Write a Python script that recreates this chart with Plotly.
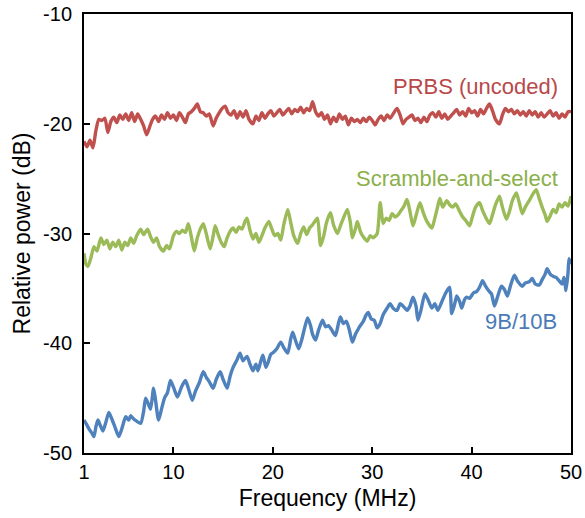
import plotly.graph_objects as go

# PRBS (uncoded)
prbs_f = [1.0,1.3,1.6,1.9,2.2,2.5,2.8,3.1,3.4,3.7,4.0,4.3,4.6,4.9,5.2,5.5,5.8,6.1,6.4,6.7,7.0,7.3,7.6,7.9,8.2,8.5,8.8,9.1,9.4,9.7,
          10.0,10.3,10.6,10.9,11.2,11.5,11.8,12.1,12.4,12.7,13.0,13.3,13.6,14.0,14.3,14.6,14.9,15.2,15.5,15.8,16.1,16.4,16.7,17.0,17.3,17.6,18.0,18.3,18.6,18.9,
          19.2,19.5,19.8,20.1,20.4,20.7,21.0,21.3,21.6,21.9,22.2,22.5,22.8,23.1,23.4,23.7,24.0,24.3,24.6,24.9,25.2,25.5,25.8,26.1,26.4,26.7,27.0,27.3,27.6,27.9,
          28.2,28.5,28.8,29.1,29.4,29.7,30.0,30.3,30.6,30.9,31.2,31.5,31.8,32.1,32.5,32.8,33.1,33.4,33.7,34.0,34.3,34.6,34.9,35.2,35.5,35.8,36.1,36.4,36.7,37.0,
          37.3,37.6,37.9,38.2,38.5,38.8,39.1,39.4,39.7,40.0,40.3,40.6,40.9,41.2,41.5,41.8,42.1,42.4,42.8,43.1,43.4,43.7,44.0,44.3,44.6,44.9,45.2,45.5,45.8,46.1,
          46.4,46.7,47.0,47.3,47.6,47.9,48.2,48.5,48.8,49.1,49.4,49.7,50.0]
prbs_db = [-21.6,-22.1,-21.5,-22.2,-20.6,-19.6,-19.7,-19.5,-20.8,-19.8,-19.4,-19.9,-19.2,-19.6,-19.1,-19.7,-19.0,-19.8,-19.1,-19.6,-20.2,-21.0,-20.3,-19.6,-19.3,-19.8,-19.2,-19.6,-19.0,-19.5,
           -19.2,-19.7,-19.0,-19.4,-19.9,-19.1,-18.9,-18.6,-18.2,-18.9,-19.0,-19.3,-19.1,-20.2,-19.5,-19.0,-18.6,-18.4,-19.0,-19.2,-18.8,-19.5,-18.9,-19.4,-18.8,-19.6,-20.0,-19.3,-19.7,-19.0,
           -19.5,-19.1,-18.8,-19.3,-19.0,-18.7,-19.2,-18.9,-18.6,-19.1,-18.7,-18.9,-18.5,-19.0,-18.6,-18.8,-18.0,-18.9,-19.3,-19.0,-19.6,-19.2,-20.0,-19.4,-19.8,-19.1,-19.6,-19.3,-20.1,-19.5,
           -19.8,-19.6,-19.9,-19.5,-19.8,-19.4,-19.7,-20.1,-19.6,-19.3,-19.7,-19.2,-19.5,-19.1,-18.6,-19.2,-20.0,-19.6,-19.4,-19.2,-19.7,-19.5,-19.9,-19.4,-19.8,-19.2,-19.0,-19.4,-18.9,-19.5,
           -19.1,-19.6,-19.3,-19.0,-18.7,-19.2,-18.9,-19.3,-18.6,-19.0,-18.8,-19.3,-18.7,-19.1,-18.6,-18.2,-18.8,-19.6,-20.0,-19.2,-18.6,-18.9,-18.7,-19.1,-18.8,-19.2,-18.9,-19.3,-18.8,-19.2,
           -18.9,-19.4,-19.0,-19.4,-19.1,-18.8,-19.3,-19.0,-19.5,-19.1,-19.4,-18.9,-18.9]

# Scramble-and-select
scr_f = [1.0,1.2,1.4,1.7,2.0,2.3,2.7,3.0,3.3,3.6,3.9,4.2,4.5,4.8,5.1,5.4,5.7,6.0,6.3,6.7,7.0,7.4,7.7,8.0,8.3,8.6,9.0,9.3,9.6,
         10.0,10.3,10.6,10.9,11.2,11.5,11.8,12.1,12.4,12.7,13.0,13.3,13.7,14.0,14.2,14.5,14.8,15.1,15.4,15.7,16.0,16.3,16.6,16.9,17.2,17.4,17.7,18.0,18.3,18.6,18.9,
         19.2,19.6,19.9,20.2,20.5,20.8,21.1,21.5,21.8,22.1,22.5,22.8,23.1,23.4,23.7,24.0,24.3,24.5,24.8,25.1,25.4,25.8,26.1,26.5,26.8,27.1,27.5,27.8,28.0,28.3,
         28.5,28.8,29.1,29.5,29.8,30.1,30.5,30.8,31.1,31.4,31.7,32.0,32.3,32.6,32.9,33.2,33.5,33.8,34.1,34.4,34.8,35.1,35.5,36.0,36.3,36.6,36.8,37.1,37.5,37.8,
         38.1,38.4,38.8,39.1,39.4,39.8,40.1,40.4,40.8,41.1,41.4,41.8,42.1,42.4,42.8,43.1,43.5,43.8,44.1,44.5,44.8,45.1,45.4,45.8,46.1,46.5,46.8,47.1,47.4,47.6,
         47.9,48.2,48.5,48.8,49.1,49.4,49.7,50.0]
scr_db = [-31.8,-32.8,-33.0,-32.2,-31.2,-31.6,-30.4,-31.0,-30.6,-31.4,-30.8,-31.2,-30.6,-31.5,-30.8,-31.1,-30.4,-30.9,-30.2,-29.6,-30.1,-29.6,-30.3,-30.8,-30.4,-31.2,-31.6,-31.1,-31.4,
          -30.2,-29.8,-30.0,-29.7,-29.9,-29.1,-30.3,-31.6,-30.4,-29.6,-29.1,-30.0,-31.4,-30.2,-29.3,-30.1,-30.8,-31.2,-30.4,-29.8,-29.5,-29.9,-29.4,-29.6,-28.9,-28.6,-29.7,-30.5,-30.0,-30.8,-30.2,
          -29.5,-28.9,-29.6,-30.2,-30.0,-30.6,-29.2,-27.8,-29.0,-30.2,-30.9,-30.0,-29.4,-30.1,-29.5,-29.2,-28.8,-28.6,-31.1,-30.3,-29.0,-28.1,-29.2,-30.0,-29.3,-28.6,-27.8,-29.0,-30.4,-29.6,
          -28.9,-29.8,-30.3,-30.7,-30.2,-30.4,-30.0,-27.2,-29.1,-28.6,-28.8,-28.2,-28.5,-28.3,-27.9,-27.5,-26.9,-28.0,-29.3,-28.4,-27.2,-28.0,-28.9,-29.5,-28.6,-27.5,-26.8,-27.6,-27.0,-27.4,
          -27.6,-27.3,-28.0,-28.5,-28.8,-29.3,-28.4,-27.6,-27.2,-27.9,-28.5,-29.1,-28.3,-27.4,-26.6,-27.6,-28.7,-28.0,-27.0,-26.3,-27.2,-28.2,-27.6,-27.0,-26.5,-26.0,-26.8,-27.6,-28.3,-28.9,
          -28.4,-27.8,-28.1,-27.3,-27.6,-27.2,-27.5,-26.6]

# 9B/10B
b9_f = [1.0,1.2,1.5,1.8,2.0,2.2,2.4,2.6,2.9,3.2,3.5,3.8,4.1,4.5,4.8,5.2,5.5,5.7,6.0,6.3,6.7,7.0,7.2,7.5,7.7,8.0,8.2,8.5,8.8,9.1,9.4,9.7,
        10.0,10.4,10.8,11.2,11.5,11.9,12.2,12.6,13.0,13.3,13.6,14.0,14.3,14.7,15.0,15.4,15.7,16.0,16.4,16.7,17.0,17.4,17.7,18.0,18.3,18.5,18.8,19.0,19.3,19.5,19.8,
        20.1,20.4,20.8,21.1,21.5,21.8,22.0,22.3,22.6,22.9,23.2,23.5,23.8,24.0,24.3,24.6,25.0,25.3,25.6,26.0,26.3,26.6,26.8,27.1,27.4,27.7,28.0,28.3,28.6,28.8,
        29.1,29.4,29.6,29.9,30.2,30.5,30.8,31.1,31.5,31.8,32.1,32.5,32.8,33.1,33.5,33.8,34.1,34.4,34.6,34.9,35.3,35.6,36.0,36.3,36.6,37.1,37.4,37.8,38.0,38.3,
        38.5,38.8,39.0,39.3,39.5,39.8,40.2,40.5,40.8,41.1,41.4,41.7,42.0,42.3,42.6,43.0,43.3,43.6,43.9,44.3,44.6,45.1,45.4,45.8,46.1,46.4,46.8,47.1,47.4,47.6,
        47.9,48.2,48.5,48.8,49.1,49.3,49.5,49.7,49.8,50.0]
b9_db = [-47.0,-47.3,-47.8,-48.2,-48.5,-47.6,-47.0,-47.4,-48.0,-47.2,-46.3,-46.9,-47.6,-48.5,-47.8,-46.7,-47.0,-46.6,-46.9,-47.1,-47.3,-46.2,-45.0,-45.6,-46.0,-44.1,-45.2,-47.0,-46.0,-45.0,-44.5,-43.4,
         -44.0,-44.9,-44.0,-43.4,-44.1,-45.2,-44.4,-43.6,-42.6,-43.1,-43.5,-44.1,-43.3,-42.6,-43.3,-44.1,-43.0,-42.2,-41.5,-40.9,-41.6,-41.2,-41.9,-42.5,-41.9,-42.5,-41.6,-41.1,-42.2,-41.8,-41.0,
         -40.8,-40.5,-39.9,-40.4,-40.9,-39.6,-39.0,-39.8,-40.5,-39.7,-38.6,-37.7,-38.4,-39.2,-39.7,-38.8,-37.9,-38.5,-38.4,-38.9,-39.3,-38.2,-37.6,-38.2,-38.0,-38.8,-39.9,-39.2,-38.7,-38.4,
         -38.0,-37.4,-37.2,-37.8,-37.9,-38.6,-38.2,-37.4,-36.8,-36.4,-36.8,-37.0,-36.4,-36.6,-37.0,-36.6,-35.8,-36.6,-37.9,-37.0,-35.5,-36.0,-36.8,-36.4,-37.0,-36.0,-35.4,-34.9,-37.3,-36.4,
         -35.7,-36.2,-36.8,-36.0,-35.8,-35.9,-35.4,-35.3,-34.9,-34.3,-34.8,-35.2,-35.5,-36.6,-35.8,-34.8,-35.1,-35.7,-34.8,-33.8,-34.3,-34.8,-34.5,-34.4,-34.1,-34.6,-34.7,-34.2,-33.7,-33.2,
         -33.7,-33.9,-34.0,-34.3,-34.6,-34.0,-35.2,-33.6,-32.3,-32.8]

series_names = ["PRBS (uncoded)", "Scramble-and-select", "9B/10B"]
line_colors = ["#C0504D", "#9BBB59", "#4F81BD"]
text_colors = ["#B9484A", "#8BB04A", "#4A7BB7"]
label_pos = [(48.85, -16.6), (48.85, -25.0), (48.75, -38.05)]

x_ticks = [1, 10, 20, 30, 40, 50]
y_ticks = [-50, -40, -30, -20, -10]

FONT = "Liberation Sans, Arial, sans-serif"

fig = go.Figure()
for f, d, c in [(prbs_f, prbs_db, line_colors[0]), (scr_f, scr_db, line_colors[1]), (b9_f, b9_db, line_colors[2])]:
    fig.add_trace(go.Scatter(x=f, y=d, mode="lines", line=dict(color=c, width=3.4, shape="spline", smoothing=0.6),
                             showlegend=False, hoverinfo="skip"))

for name, (lx, ly), tc in zip(series_names, label_pos, text_colors):
    fig.add_annotation(x=lx, y=ly, text=name, showarrow=False, xanchor="right", yanchor="middle",
                       font=dict(family=FONT, size=22, color=tc))

fig.update_layout(
    width=585, height=518,
    margin=dict(l=84, r=14, t=14, b=65),
    paper_bgcolor="white", plot_bgcolor="white",
    font=dict(family=FONT, color="black"),
)
fig.update_xaxes(range=[1, 50], tickvals=x_ticks, ticktext=[str(v) for v in x_ticks], automargin=False,
                 ticks="inside", ticklen=6, tickwidth=1.5, tickcolor="black",
                 showline=True, linecolor="black", linewidth=2, mirror=True,
                 showgrid=False, zeroline=False,
                 tickfont=dict(size=20, color="black"),
                 title=dict(text="Frequency (MHz)", font=dict(size=23, color="black"), standoff=8))
fig.update_yaxes(range=[-50, -10], tickvals=y_ticks, ticktext=[str(v) for v in y_ticks], automargin=False,
                 ticks="inside", ticklen=6, tickwidth=1.5, tickcolor="black",
                 showline=True, linecolor="black", linewidth=2, mirror=True,
                 showgrid=False, zeroline=False, ticklabelstandoff=6,
                 tickfont=dict(size=20, color="black"),
                 title=dict(text="Relative power (dB)", font=dict(size=23, color="black"), standoff=6))

fig.write_html("out.html")
